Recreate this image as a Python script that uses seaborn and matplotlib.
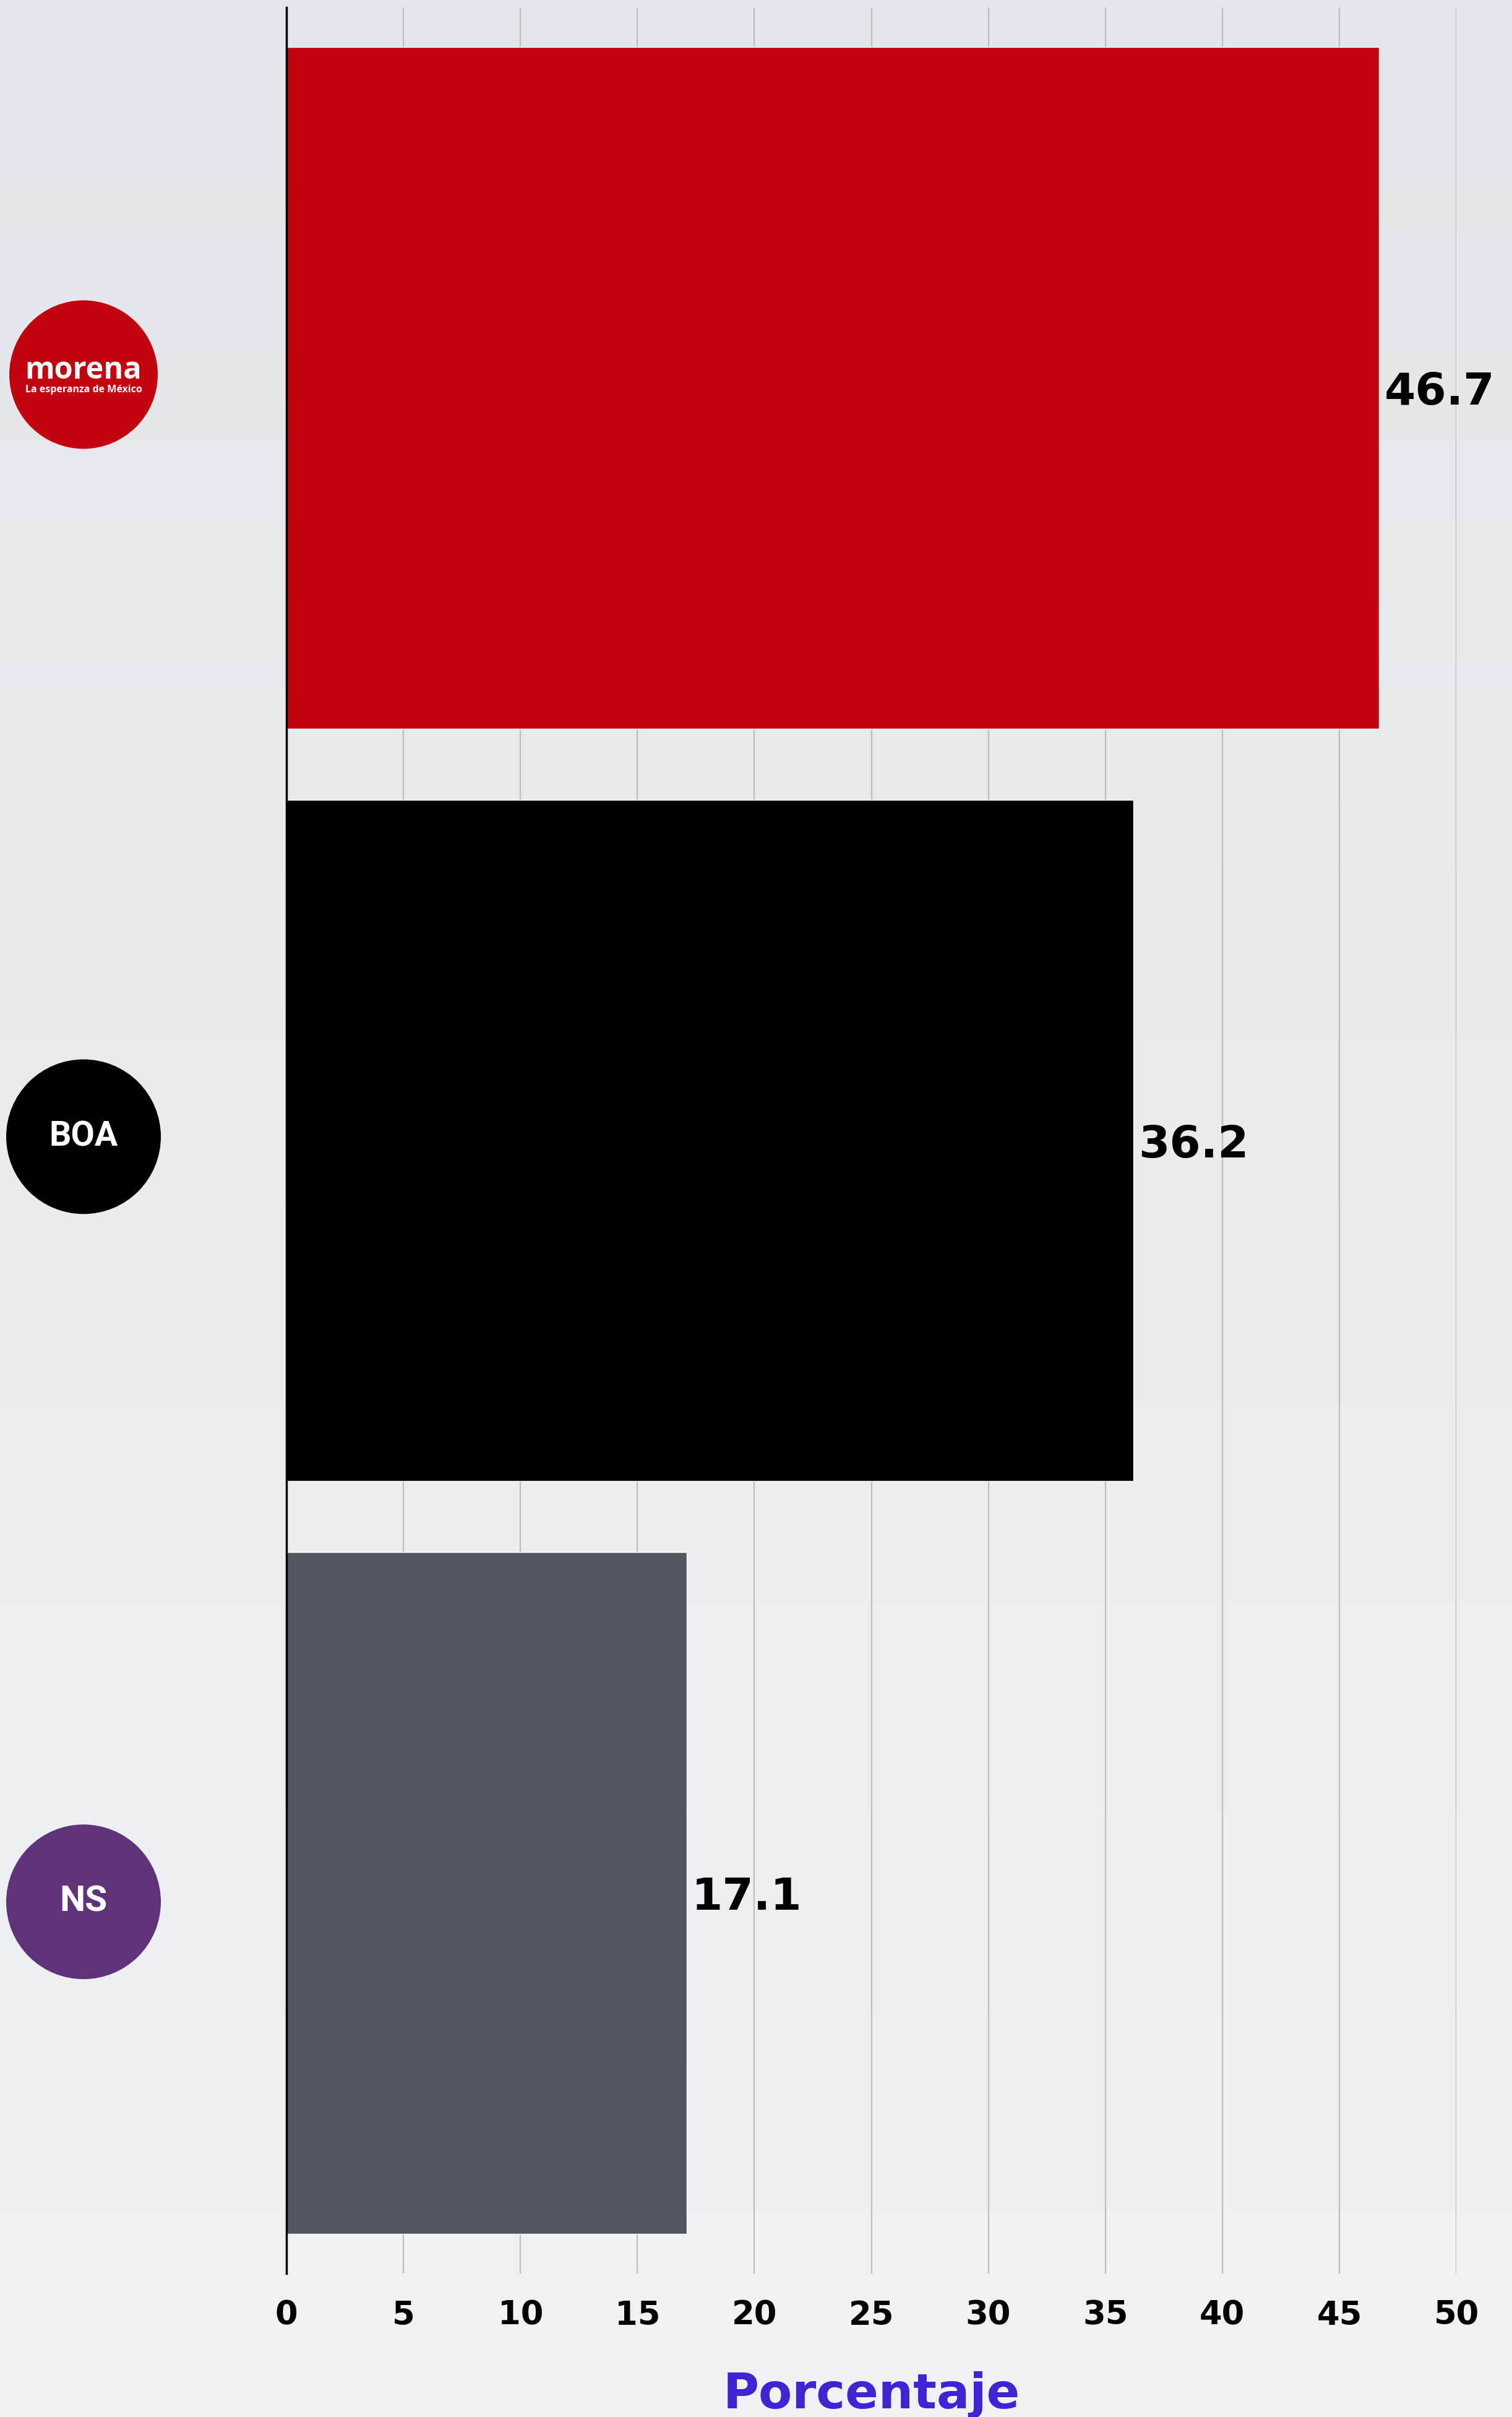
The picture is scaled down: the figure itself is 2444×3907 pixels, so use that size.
import numpy as np
import pandas as pd
import matplotlib
matplotlib.use("Agg")
import matplotlib.pyplot as plt
import seaborn as sns
from matplotlib.colors import LinearSegmentedColormap

# ---- data ----
parties = ["morena", "BOA", "NS"]
values = [46.7, 36.2, 17.1]
bar_colors = ["#C3030F", "#000000", "#535760"]
logo_colors = ["#C3030F", "#000000", "#5E3379"]
x_ticks = [0, 5, 10, 15, 20, 25, 30, 35, 40, 45, 50]
x_label = "Porcentaje"

sns.set_theme(style="white")
plt.rcParams["font.family"] = ["DejaVu Sans"]

W, H, DPI = 2444, 3907, 100
fig = plt.figure(figsize=(W / DPI, H / DPI), dpi=DPI)

# background gradient
bg = fig.add_axes([0, 0, 1, 1], zorder=-10)
grad = np.linspace(0, 1, 256).reshape(-1, 1)
cmap = LinearSegmentedColormap.from_list("bg", ["#E3E6EA", "#F1F2F5"])
bg.imshow(grad, aspect="auto", cmap=cmap, extent=[0, 1, 0, 1])
bg.set_axis_off()

left, right = 463 / W, 2354 / W
bottom, top = 1 - 3675 / H, 1 - 12 / H
ax = fig.add_axes([left, bottom, right - left, top - bottom])
ax.set_facecolor("none")

df = pd.DataFrame({"party": parties, "value": values})
sns.barplot(data=df, x="value", y="party", hue="party", palette=bar_colors,
            orient="h", width=0.906, legend=False, ax=ax, saturation=1, zorder=3)

ax.set_xlim(0, 50)
ax.set_ylim(2.506, -0.506)
ax.set_xticks(x_ticks)
ax.set_xticklabels([str(t) for t in x_ticks], fontsize=38, fontweight="bold", color="black")
ax.tick_params(axis="x", length=0, pad=30)
ax.tick_params(axis="y", length=0, labelleft=False)
ax.set_ylabel("")
ax.set_xlabel(x_label, fontsize=57, fontweight="bold", color="#4024D4", labelpad=46)

ax.grid(axis="x", color="#BDBDBD", lw=1.6, zorder=0)
ax.grid(axis="y", visible=False)
ax.set_axisbelow(True)
for s in ["top", "right", "bottom"]:
    ax.spines[s].set_visible(False)
ax.spines["left"].set_color("black")
ax.spines["left"].set_linewidth(2.5)
ax.spines["left"].set_zorder(5)

# value labels
for i, v in enumerate(values):
    ax.annotate(f"{v:.1f}", xy=(v, i), xytext=(6, 0), textcoords="offset points",
                ha="left", va="center_baseline", fontsize=52, fontweight="bold",
                color="black", clip_on=False, annotation_clip=False)

# party logos (circles left of axis)
px_per_unit = (2354 - 463) / 50
logo_x = (135 - 463) / px_per_unit
logo_dy = [-0.018, -0.005, 0.012]
logo_diam_px = [240, 250, 250]
ys = [i + d for i, d in enumerate(logo_dy)]
ax.scatter([logo_x] * len(parties), ys, s=[(d * 72 / DPI) ** 2 for d in logo_diam_px],
           c=logo_colors, clip_on=False, zorder=6, linewidths=0)

ax.text(logo_x, ys[0] - 0.005, "morena", ha="center", va="center", color="white",
        fontsize=35, fontweight="bold", family=["Open Sans", "DejaVu Sans"], zorder=7, clip_on=False)
ax.text(logo_x, ys[0] + 0.02, "La esperanza de México", ha="center", va="center", color="white",
        fontsize=11.5, fontweight="bold", family=["Open Sans", "DejaVu Sans"], zorder=7, clip_on=False)
ax.text(logo_x, ys[1], "BOA", ha="center", va="center", color="white",
        fontsize=40, fontweight="bold", family=["Roboto", "DejaVu Sans"], zorder=7, clip_on=False)
ax.text(logo_x, ys[2], "NS", ha="center", va="center", color="white",
        fontsize=42, fontweight="bold", family=["Roboto", "DejaVu Sans"], zorder=7, clip_on=False)

fig.savefig("out.png", dpi=DPI)
